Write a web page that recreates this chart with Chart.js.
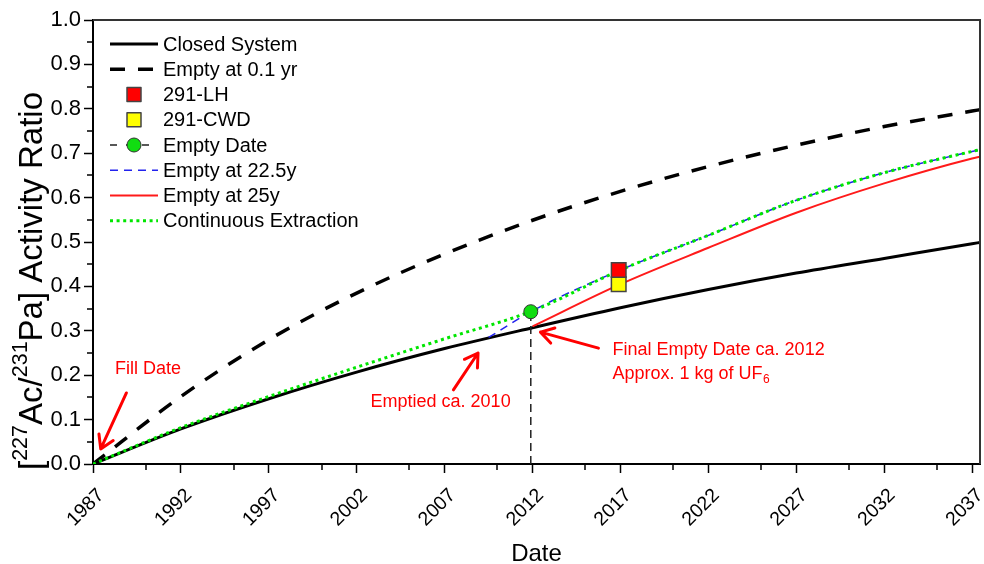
<!DOCTYPE html>
<html><head><meta charset="utf-8">
<script src="https://cdn.jsdelivr.net/npm/chart.js@4/dist/chart.umd.min.js"></script>
<style>html,body{margin:0;padding:0;background:#fff;}#wrap{width:984px;height:564px;}</style>
</head><body><div id="wrap"><canvas id="c" width="984" height="564"></canvas></div>
<script>
// ---- data ----
const curveYears      = [1987, 1992, 1997, 2002, 2007, 2012, 2017, 2022, 2027, 2032, 2037, 2037.45];
const closedSystem    = [0, 0.079, 0.147, 0.207, 0.260, 0.307, 0.352, 0.393, 0.430, 0.463, 0.496, 0.499];
const emptyAt01       = [0, 0.152, 0.280, 0.385, 0.473, 0.549, 0.614, 0.670, 0.718, 0.760, 0.795, 0.798];
const continuousExtr  = [0, 0.082, 0.152, 0.218, 0.282, 0.345, 0.437, 0.515, 0.594, 0.656, 0.704, 0.708];
const empty225Years   = [2009.5, 2012, 2017, 2022, 2027, 2032, 2037, 2037.45];
const emptyAt225      = [0.285, 0.345, 0.437, 0.515, 0.594, 0.656, 0.704, 0.708];
const empty25Years    = [2012, 2017, 2022, 2027, 2032, 2037, 2037.45];
const emptyAt25       = [0.310, 0.405, 0.487, 0.566, 0.632, 0.688, 0.692];
const emptyDateYears  = [2011.9, 2011.9];
const emptyDateVals   = [0, 0.343];
const sample291LH     = {year: 2016.9, value: 0.437};
const sample291CWD    = {year: 2016.9, value: 0.405};
const xMajorTicks     = [1987, 1992, 1997, 2002, 2007, 2012, 2017, 2022, 2027, 2032, 2037];
const xMinorTicks     = [1990, 1995, 2000, 2005, 2010, 2015, 2020, 2025, 2030, 2035];
const yMinorTicks     = [0.05, 0.15, 0.25, 0.35, 0.45, 0.55, 0.65, 0.75, 0.85, 0.95];
const legendOrder     = ['Closed System', 'Empty at 0.1 yr', '291-LH', '291-CWD', 'Empty Date', 'Empty at 22.5y', 'Empty at 25y', 'Continuous Extraction'];
const noteTexts = [
  {text: 'Fill Date', x: 1990.13, y: 0.214, align: 'center'},
  {text: 'Emptied ca. 2010', x: 2006.77, y: 0.140, align: 'center'},
  {text: 'Final Empty Date ca. 2012', x: 2016.55, y: 0.257, align: 'left'},
  {text: 'Approx. 1 kg of UF', sub: '6', x: 2016.55, y: 0.203, align: 'left'}
];
const noteArrows = [
  {from: [1988.9, 0.160], to: [1987.44, 0.034]},
  {from: [2007.5, 0.167], to: [2008.9, 0.250]},
  {from: [2015.75, 0.261], to: [2012.45, 0.297]}
];

const FONT = "'Liberation Sans', Arial, Helvetica, sans-serif";
const pts = (xs, ys) => xs.map((x, i) => ({x: x, y: ys[i]}));

const lineBase = {pointRadius: 0, pointHoverRadius: 0, cubicInterpolationMode: 'monotone', fill: false};

const datasets = [
  {label: '291-LH', data: [{x: sample291LH.year, y: sample291LH.value}], showLine: false, pointStyle: 'rect',
   pointRadius: 10.3, backgroundColor: '#ff0000', borderColor: '#444', borderWidth: 1.5, pointBackgroundColor: '#ff0000', pointBorderColor: '#444', pointBorderWidth: 1.5, kind: 'rect'},
  {label: '291-CWD', data: [{x: sample291CWD.year, y: sample291CWD.value}], showLine: false, pointStyle: 'rect',
   pointRadius: 10.3, backgroundColor: '#ffff00', borderColor: '#444', borderWidth: 1.5, pointBackgroundColor: '#ffff00', pointBorderColor: '#444', pointBorderWidth: 1.5, kind: 'rect'},
  {label: 'Empty Date', data: pts(emptyDateYears, emptyDateVals), borderColor: '#222', borderWidth: 1.5, borderDash: [8, 5],
   pointRadius: (c) => c.dataIndex === 1 ? 7 : 0, pointBackgroundColor: '#11dd11', pointBorderColor: '#333', pointBorderWidth: 1, fill: false, tension: 0, kind: 'lineCircle'},
  Object.assign({label: 'Continuous Extraction', data: pts(curveYears, continuousExtr), borderColor: '#00e600', borderWidth: 3, borderDash: [3, 3.6], kind: 'line'}, lineBase),
  Object.assign({label: 'Empty at 22.5y', data: pts(empty225Years, emptyAt225), borderColor: '#2222ee', borderWidth: 1.5, borderDash: [8, 6], kind: 'line'}, lineBase),
  Object.assign({label: 'Empty at 25y', data: pts(empty25Years, emptyAt25), borderColor: '#ff1a1a', borderWidth: 2, kind: 'line'}, lineBase),
  Object.assign({label: 'Empty at 0.1 yr', data: pts(curveYears, emptyAt01), borderColor: '#000', borderWidth: 3.5, borderDash: [15, 13], kind: 'line'}, lineBase),
  Object.assign({label: 'Closed System', data: pts(curveYears, closedSystem), borderColor: '#000', borderWidth: 3, kind: 'line'}, lineBase)
];

const extrasPlugin = {
  id: 'extras',
  afterDatasetsDraw(chart) {
    const ctx = chart.ctx, xs = chart.scales.x, ys = chart.scales.y, a = chart.chartArea;
    ctx.save();
    // frame top / right
    ctx.strokeStyle = '#333'; ctx.lineWidth = 2;
    ctx.beginPath(); ctx.moveTo(a.left, a.top); ctx.lineTo(a.right, a.top); ctx.lineTo(a.right, a.bottom); ctx.stroke();
    // minor ticks
    ctx.strokeStyle = '#000'; ctx.lineWidth = 1.5;
    ctx.beginPath();
    xMinorTicks.forEach(v => { const px = Math.round(xs.getPixelForValue(v)); ctx.moveTo(px, a.bottom); ctx.lineTo(px, a.bottom + 6); });
    yMinorTicks.forEach(v => { const py = Math.round(ys.getPixelForValue(v)); ctx.moveTo(a.left, py); ctx.lineTo(a.left - 6, py); });
    ctx.stroke();
    // annotations
    ctx.fillStyle = '#ff0000'; ctx.strokeStyle = '#ff0000';
    ctx.textBaseline = 'middle';
    noteTexts.forEach(n => {
      ctx.font = '18px ' + FONT;
      ctx.textAlign = n.align;
      const px = xs.getPixelForValue(n.x), py = ys.getPixelForValue(n.y);
      ctx.fillText(n.text, px, py);
      if (n.sub) {
        const w = ctx.measureText(n.text).width;
        ctx.font = '12px ' + FONT; ctx.textAlign = 'left';
        ctx.fillText(n.sub, px + w + 0.5, py + 6);
      }
    });
    ctx.lineWidth = 3; ctx.lineCap = 'round'; ctx.lineJoin = 'round';
    noteArrows.forEach(ar => {
      const x0 = xs.getPixelForValue(ar.from[0]), y0 = ys.getPixelForValue(ar.from[1]);
      const x1 = xs.getPixelForValue(ar.to[0]), y1 = ys.getPixelForValue(ar.to[1]);
      const ang = Math.atan2(y1 - y0, x1 - x0), L = 15, s = 0.55;
      ctx.beginPath();
      ctx.moveTo(x0, y0); ctx.lineTo(x1, y1);
      ctx.moveTo(x1 - L * Math.cos(ang - s), y1 - L * Math.sin(ang - s)); ctx.lineTo(x1, y1);
      ctx.lineTo(x1 - L * Math.cos(ang + s), y1 - L * Math.sin(ang + s));
      ctx.stroke();
    });
    ctx.lineCap = 'butt';
    // legend
    const lx0 = 110, lx1 = 158, ltx = 163, ly0 = 44, ldy = 25.25;
    legendOrder.forEach((lab, i) => {
      const ds = chart.data.datasets.find(d => d.label === lab);
      const y = ly0 + i * ldy;
      ctx.setLineDash([]);
      if (ds.kind === 'rect') {
        ctx.fillStyle = ds.backgroundColor; ctx.strokeStyle = ds.borderColor; ctx.lineWidth = 1.5;
        ctx.fillRect(127, y - 7, 14, 14); ctx.strokeRect(127, y - 7, 14, 14);
      } else {
        ctx.strokeStyle = ds.borderColor; ctx.lineWidth = ds.borderWidth;
        ctx.setLineDash(ds.kind === 'lineCircle' ? [7, 9] : (ds.borderDash || []));
        ctx.beginPath(); ctx.moveTo(lx0, y); ctx.lineTo(lx1, y); ctx.stroke();
        ctx.setLineDash([]);
        if (ds.kind === 'lineCircle') {
          ctx.fillStyle = ds.pointBackgroundColor; ctx.strokeStyle = ds.pointBorderColor; ctx.lineWidth = 1;
          ctx.beginPath(); ctx.arc(134, y, 7, 0, Math.PI * 2); ctx.fill(); ctx.stroke();
        }
      }
      ctx.fillStyle = '#000'; ctx.font = '20px ' + FONT; ctx.textAlign = 'left'; ctx.textBaseline = 'middle';
      ctx.fillText(lab, ltx, y + 1);
    });
    // y axis title with superscripts
    const parts = [
      {t: '[', f: 33, dy: 0}, {t: '227', f: 21.5, dy: -12}, {t: 'Ac/', f: 33, dy: 0},
      {t: '231', f: 21.5, dy: -12}, {t: 'Pa] Activity Ratio', f: 33, dy: 0}
    ];
    let total = 0;
    parts.forEach(p => { ctx.font = p.f + 'px ' + FONT; p.w = ctx.measureText(p.t).width; total += p.w; });
    ctx.translate(33, 281);
    ctx.rotate(-Math.PI / 2);
    ctx.fillStyle = '#000'; ctx.textAlign = 'left'; ctx.textBaseline = 'middle';
    let cx = -total / 2;
    parts.forEach(p => { ctx.font = p.f + 'px ' + FONT; ctx.fillText(p.t, cx, p.dy); cx += p.w; });
    ctx.restore();
  }
};

new Chart(document.getElementById('c'), {
  type: 'line',
  data: {datasets: datasets},
  plugins: [extrasPlugin],
  options: {
    responsive: false, animation: false, devicePixelRatio: 1,
    layout: {autoPadding: false, padding: {top: 20, right: 4, left: 0, bottom: 0}},
    plugins: {legend: {display: false}, tooltip: {enabled: false}},
    scales: {
      x: {
        type: 'linear', min: 1987, max: 2037.45,
        afterBuildTicks: (s) => { s.ticks = xMajorTicks.map(v => ({value: v})); },
        afterFit: (s) => { s.height = 100; s.paddingLeft = 0; s.paddingRight = 0; },
        ticks: {autoSkip: false, maxRotation: 45, minRotation: 45, color: '#000', font: {family: FONT, size: 19.5},
                padding: 11, labelOffset: 8, callback: (v) => String(v)},
        grid: {drawOnChartArea: false, drawTicks: true, tickLength: 9, tickColor: '#000', tickWidth: 1.5},
        border: {display: true, color: '#000', width: 2},
        title: {display: true, text: 'Date', color: '#000', font: {family: FONT, size: 24, lineHeight: 1}, padding: {top: 0, bottom: -2}}
      },
      y: {
        min: 0, max: 1,
        afterFit: (s) => { s.width = 93; s.paddingTop = 0; s.paddingBottom = 0; },
        ticks: {stepSize: 0.1, color: '#000', font: {family: FONT, size: 22}, padding: 3, callback: (v) => Number(v).toFixed(1)},
        grid: {drawOnChartArea: false, drawTicks: true, tickLength: 9, tickColor: '#000', tickWidth: 1.5},
        border: {display: true, color: '#000', width: 2}
      }
    }
  }
});
</script>
</body></html>
